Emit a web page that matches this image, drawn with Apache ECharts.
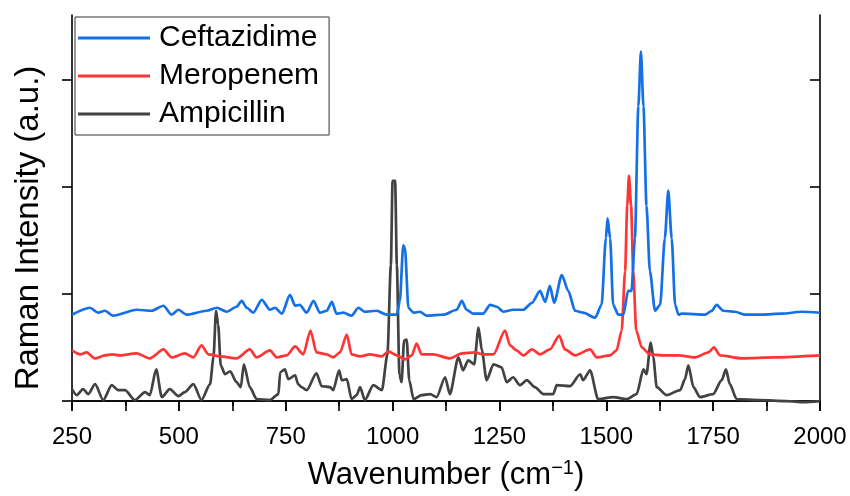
<!DOCTYPE html>
<html>
<head>
<meta charset="utf-8">
<title>Raman spectra</title>
<script src="https://cdn.jsdelivr.net/npm/echarts@6/dist/echarts.min.js"></script>
<style>
  html, body { margin: 0; padding: 0; background: #fff; }
  #chart { width: 850px; height: 496px; }
</style>
</head>
<body>
<div id="chart"></div>
<script>
// wavenumber (cm-1) / intensity (a.u., offset already in)
var cefWn = [250,292,311,327,346,401,436,464,483,499,518,565,589,612,635,647,659,674,694,713,725,741,760,772,783,799,815,830,846,858,869,885,904,920,935,963,986,1010,1017,1025,1029,1037,1049,1064,1080,1119,1150,1162,1173,1189,1212,1228,1244,1259,1282,1306,1326,1345,1357,1368,1378,1396,1411,1427,1446,1474,1489,1499,1503,1509,1516,1528,1540,1551,1559,1567,1575,1581,1587,1594,1602,1614,1626,1637,1645,1653,1661,1669,1676,1731,1747,1758,1774,1801,1825,1864,1910,1957,2000];
var cefInt = [87,94,89,91,86,92,91,96,87,92,87,91,94,90,95,101,94,89,102,92,94,88,107,96,97,89,101,89,91,100,88,89,86,94,90,91,87,87,101,157,154,94,89,90,86,87,92,101,92,88,88,97,95,90,92,92,99,111,100,116,99,127,111,91,89,84,97,164,184,164,97,87,87,111,111,164,297,352,297,197,131,91,97,164,212,164,97,87,88,87,91,97,91,90,87,87,88,90,89];

var merWn = [250,269,284,304,327,343,362,401,432,464,483,514,534,553,569,596,635,666,682,713,729,752,772,791,808,822,846,861,877,893,904,924,947,975,990,1010,1029,1045,1056,1068,1095,1134,1162,1193,1212,1236,1263,1275,1290,1306,1326,1345,1368,1390,1403,1427,1462,1478,1509,1524,1536,1544,1549,1553,1558,1563,1570,1583,1602,1633,1668,1708,1739,1752,1766,1817,1895,2000];
var merInt = [51,47,49,43,46,47,46,48,43,52,44,48,44,56,47,45,43,52,44,51,44,46,55,47,71,49,47,44,49,67,47,45,47,45,50,46,42,46,58,47,47,43,48,49,47,47,71,56,51,46,52,47,52,66,52,46,52,44,46,51,71,131,197,227,197,131,71,54,47,46,46,44,49,54,46,43,44,46];

var ampWn = [250,261,276,288,304,323,343,358,374,397,421,432,447,460,479,499,514,534,553,573,581,587,592,598,608,620,635,645,652,666,682,713,733,737,748,756,772,779,787,799,822,834,854,861,875,881,893,904,916,924,935,955,975,988,996,1000,1006,1010,1016,1021,1027,1033,1039,1049,1068,1088,1103,1123,1134,1154,1165,1177,1191,1201,1209,1220,1236,1255,1267,1282,1298,1314,1333,1353,1376,1384,1415,1439,1446,1462,1481,1516,1548,1571,1587,1594,1604,1610,1618,1641,1673,1684,1692,1704,1719,1750,1770,1780,1789,1805,1860,1922,1961,2000];
var ampInt = [12,6,12,7,17,1,16,11,11,1,9,6,32,4,12,5,9,17,1,17,44,91,77,36,27,30,19,14,37,14,2,1,7,29,32,22,26,17,14,11,28,15,14,11,31,21,22,2,6,14,1,16,11,47,137,222,222,137,27,19,61,62,21,2,6,7,4,24,7,44,31,41,37,74,51,21,37,34,19,24,16,21,14,7,7,16,15,27,21,31,2,4,2,7,32,27,59,44,14,6,11,22,36,14,4,7,21,32,17,2,1,0,-1,0];

var names = ['Ceftazidime', 'Meropenem', 'Ampicillin'];
var colors = ['#1470e6', '#ff3535', '#424242'];
// y ticks have no labels in the original
var yTicks = [0, 108, 216, 324];

function pairs(xs, ys) {
  var out = [];
  for (var i = 0; i < xs.length; i++) {
    out.push([xs[i], ys[i]]);
  }
  return out;
}

var axisCol = '#000';
var chart = echarts.init(document.getElementById('chart'), null, { renderer: 'canvas' });

var option = {
  animation: false,
  backgroundColor: '#fff',
  textStyle: { fontFamily: 'Liberation Sans, Arial, sans-serif' },
  grid: { left: 72, right: 30, top: 15, bottom: 86 },
  legend: {
    data: names,
    orient: 'vertical',
    left: 75,
    top: 17,
    padding: [6, 10, 6, 3],
    itemGap: 8,
    itemWidth: 72,
    itemHeight: 3,
    icon: 'rect',
    borderColor: '#333',
    borderWidth: 1,
    textStyle: { fontSize: 30, color: '#000', padding: [0, 0, 0, 4] }
  },
  xAxis: [{
    type: 'value',
    min: 250,
    max: 2000,
    interval: 250,
    position: 'bottom',
    axisLine: { lineStyle: { color: axisCol, width: 1.6 } },
    axisTick: { length: 10, lineStyle: { width: 1.6 } },
    minorTick: { show: true, splitNumber: 2, length: 5, lineStyle: { color: axisCol, width: 1.6 } },
    splitLine: { show: false },
    axisLabel: {
      fontSize: 24,
      color: '#000',
      margin: 18,
      formatter: function (v) { return String(v); }
    },
    name: 'Wavenumber (cm{sup|\u22121})',
    nameLocation: 'middle',
    nameGap: 51,
    nameTextStyle: {
      fontSize: 31,
      color: '#000',
      rich: { sup: { fontSize: 20, padding: [0, 0, 15, 0] } }
    }
  }, {
    // mirror axis on top, ticks pointing in
    type: 'value',
    min: 250,
    max: 2000,
    interval: 125,
    position: 'top',
    axisLine: { lineStyle: { color: axisCol, width: 1.6 } },
    axisTick: { inside: true, length: 10, lineStyle: { width: 1.6 } },
    axisLabel: { show: false },
    splitLine: { show: false }
  }],
  yAxis: [{
    type: 'value',
    min: -6,
    max: 389,
    position: 'left',
    axisLine: { show: true, lineStyle: { color: axisCol, width: 1.6 } },
    axisTick: { show: true, customValues: yTicks, length: 10, lineStyle: { width: 1.6 } },
    axisLabel: { show: false },
    splitLine: { show: false },
    name: 'Raman Intensity (a.u.)',
    nameLocation: 'middle',
    nameGap: 27,
    nameTextStyle: { fontSize: 33, color: '#000', padding: [0, 34, 0, 0] }
  }, {
    type: 'value',
    min: -6,
    max: 389,
    position: 'right',
    axisLine: { show: true, lineStyle: { color: axisCol, width: 1.6 } },
    axisTick: { show: true, inside: true, customValues: yTicks, length: 10, lineStyle: { width: 1.6 } },
    axisLabel: { show: false },
    splitLine: { show: false }
  }],
  series: [
    { name: names[0], data: pairs(cefWn, cefInt) },
    { name: names[1], data: pairs(merWn, merInt) },
    { name: names[2], data: pairs(ampWn, ampInt) }
  ].map(function (s, i) {
    return Object.assign(s, {
      type: 'line',
      symbol: 'none',
      smooth: 0.25,
      smoothMonotone: 'x',
      xAxisIndex: 0,
      yAxisIndex: 0,
      color: colors[i],
      lineStyle: { width: 2.7, color: colors[i] },
      z: 3 - i
    });
  })
};

chart.setOption(option);
</script>
</body>
</html>
